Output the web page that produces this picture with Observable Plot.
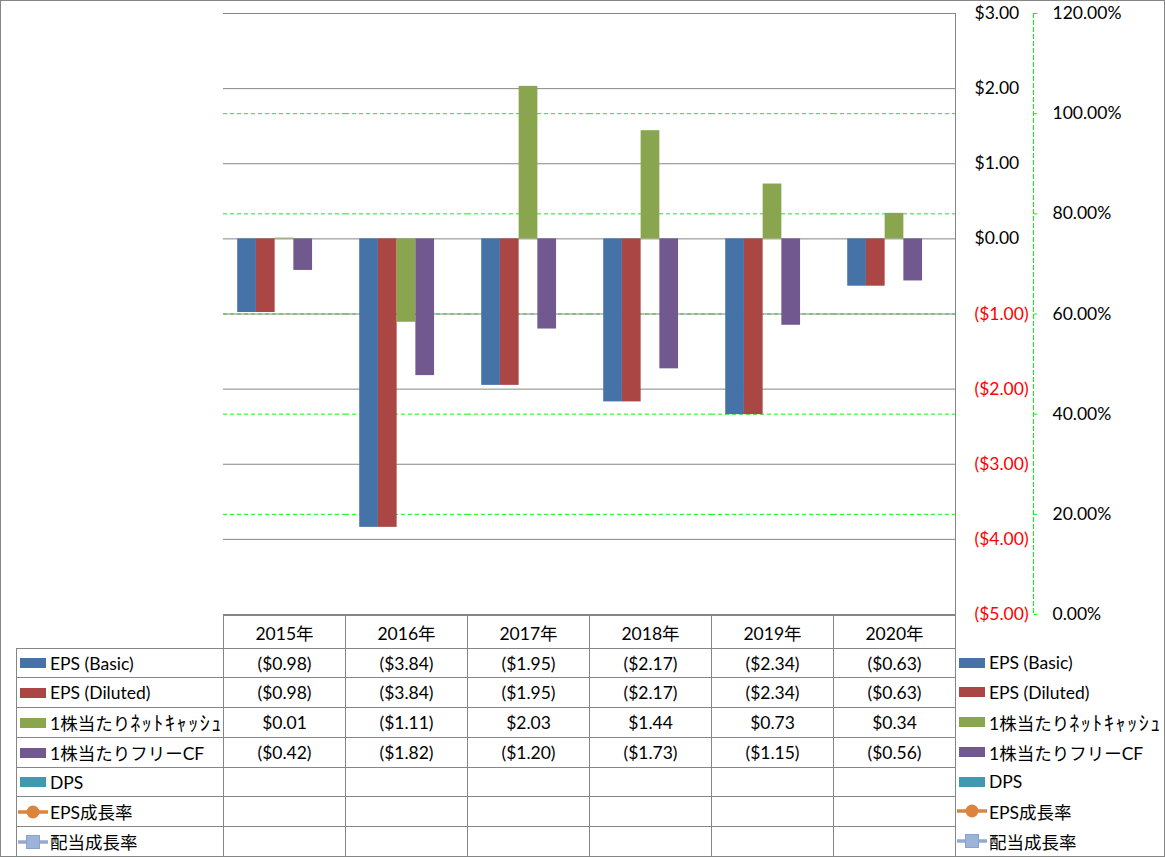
<!DOCTYPE html>
<html><head><meta charset="utf-8">
<script src="https://cdn.jsdelivr.net/npm/d3@7"></script>
<script src="https://cdn.jsdelivr.net/npm/@observablehq/plot@0.6"></script>
<style>
body{margin:0;background:#fff;}
#wrap{position:relative;width:1165px;height:858px;overflow:hidden;font-family:Lato,"Noto Sans CJK JP",sans-serif;font-size:17.5px;color:#000;background:#fff;}
#chart{position:absolute;left:0;top:0;}
#border{position:absolute;left:0;top:0;width:1165px;height:857px;box-sizing:border-box;border:1px solid #868686;pointer-events:none;}
.cell{position:absolute;box-sizing:border-box;border:1px solid #868686;display:flex;align-items:center;justify-content:center;white-space:nowrap;}
.lab{justify-content:flex-start;padding-left:3px;}
.leg{position:absolute;display:flex;align-items:center;white-space:nowrap;}
.sw{display:inline-block;width:26px;height:10px;margin-right:4px;flex:none;}
.lsw{display:block;margin-left:-2px;margin-right:2px;flex:none;}
.hw{font-size:20px;letter-spacing:1.6px;}
</style></head>
<body>
<div id="wrap"><div id="chart"></div><div id="border"></div></div>
<script>
// ---- data ----
const years = ["2015年","2016年","2017年","2018年","2019年","2020年"];
const barSeries = ["EPS (Basic)","EPS (Diluted)","1株当たりﾈｯﾄｷｬｯｼｭ","1株当たりフリーCF","DPS"];
const lineSeries = ["EPS成長率","配当成長率"];
const epsBasic = [-0.98,-3.84,-1.95,-2.17,-2.34,-0.63];
const epsDiluted = [-0.98,-3.84,-1.95,-2.17,-2.34,-0.63];
const netCashPerShare = [0.01,-1.11,2.03,1.44,0.73,0.34];
const freeCFPerShare = [-0.42,-1.82,-1.20,-1.73,-1.15,-0.56];
const dps = [null,null,null,null,null,null];
const epsGrowth = [null,null,null,null,null,null];
const dividendGrowth = [null,null,null,null,null,null];
const dollarTicks = [3,2,1,0,-1,-2,-3,-4,-5];
const pctTicks = [120,100,80,60,40,20,0];
const barColors = ["#4572A7","#AA4643","#89A54E","#71588F","#4198AF"];
const lineColors = ["#DB843D","#93A9CF"];

// ---- helpers ----
const barValues = [epsBasic, epsDiluted, netCashPerShare, freeCFPerShare, dps];
const lineValues = [epsGrowth, dividendGrowth];
const money = v => v == null ? "" : (v < 0 ? "($" + (-v).toFixed(2) + ")" : "$" + v.toFixed(2));
const yDomain = [-5, 3], pctDomain = [0, 120];
const pctToY = p => yDomain[0] + (p - pctDomain[0]) * (yDomain[1] - yDomain[0]) / (pctDomain[1] - pctDomain[0]);
const yToPct = v => pctDomain[0] + (v - yDomain[0]) * (pctDomain[1] - pctDomain[0]) / (yDomain[1] - yDomain[0]);

const rows = [];
years.forEach((yr, i) => barValues.forEach((arr, j) => {
  if (arr[i] != null) rows.push({year: yr, series: barSeries[j], value: arr[i]});
}));

const chart = Plot.plot({
  width: 1165, height: 615,
  marginTop: 13, marginBottom: 1, marginLeft: 223, marginRight: 210,
  style: {fontFamily: "Lato, 'Noto Sans CJK JP', sans-serif", fontSize: "17.5px", background: "transparent", overflow: "visible"},
  fx: {domain: years, padding: 0, round: false, axis: null, label: null},
  x: {domain: barSeries, paddingInner: 0, paddingOuter: 0.76, round: false, axis: null},
  y: {domain: yDomain, axis: null},
  color: {domain: barSeries, range: barColors},
  marks: [
    Plot.ruleY(pctTicks.map(pctToY), {stroke: "#00FF00", strokeDasharray: "4,3"}),
    Plot.ruleY(dollarTicks, {stroke: "#868686"}),
    Plot.barY(rows, {fx: "year", x: "series", y: "value", fill: "series"}),
    Plot.frame({anchor: "right", facetAnchor: "right", stroke: "#868686"}),
    Plot.frame({anchor: "right", facetAnchor: "right", dx: 78, stroke: "#00FF00", strokeDasharray: "4,3"}),
    Plot.axisY({anchor: "right", label: null, ticks: dollarTicks.filter(v => v >= 0), tickSize: 0, tickPadding: 19, tickFormat: money, fill: "#000"}),
    Plot.axisY({anchor: "right", label: null, ticks: dollarTicks.filter(v => v < 0), tickSize: 0, tickPadding: 19, tickFormat: money, fill: "#FF0000"}),
    Plot.axisY({anchor: "right", label: null, ticks: pctTicks.map(pctToY), tickSize: 3, tickPadding: 16, dx: 78, stroke: "#00FF00", fill: "#000", tickFormat: v => yToPct(v).toFixed(2) + "%"})
  ]
});
document.getElementById("chart").appendChild(chart);

// ---- data table ----
const wrap = document.getElementById("wrap");
const colX = [16, 223, 345, 467, 589, 711, 833, 955];
const rowY = [615, 648, 677, 707, 737, 767, 796, 826, 856];
function cell(c, r, cls) {
  const d = document.createElement("div");
  d.className = "cell" + (cls ? " " + cls : "");
  d.style.left = colX[c] + "px";
  d.style.top = rowY[r] + "px";
  d.style.width = (colX[c + 1] - colX[c] + 1) + "px";
  d.style.height = (rowY[r + 1] - rowY[r] + 1) + "px";
  wrap.appendChild(d);
  return d;
}
function addLabel(el, name) {
  // half-width katakana get a little extra size/spacing, as in the reference font
  const parts = name.match(/[\uFF61-\uFF9F]+|[^\uFF61-\uFF9F]+/g);
  parts.forEach(p => {
    if (/[\uFF61-\uFF9F]/.test(p)) {
      const s = document.createElement("span"); s.className = "hw"; s.textContent = p; el.appendChild(s);
    } else el.appendChild(document.createTextNode(p));
  });
}
function swatch(kind, color, idx) {
  if (kind === "bar") {
    const s = document.createElement("span");
    s.className = "sw"; s.style.background = color; return s;
  }
  const ns = "http://www.w3.org/2000/svg";
  const svg = document.createElementNS(ns, "svg");
  svg.setAttribute("width", 30); svg.setAttribute("height", 16); svg.setAttribute("class", "lsw");
  const ln = document.createElementNS(ns, "line");
  ln.setAttribute("x1", 0); ln.setAttribute("x2", 30); ln.setAttribute("y1", 8); ln.setAttribute("y2", 8);
  ln.setAttribute("stroke", color); ln.setAttribute("stroke-width", 3.5);
  svg.appendChild(ln);
  let m;
  if (idx === 0) {
    m = document.createElementNS(ns, "circle");
    m.setAttribute("cx", 15); m.setAttribute("cy", 8); m.setAttribute("r", 6.5);
    m.setAttribute("fill", color);
  } else {
    m = document.createElementNS(ns, "rect");
    m.setAttribute("x", 8.5); m.setAttribute("y", 1.5); m.setAttribute("width", 13); m.setAttribute("height", 13);
    m.setAttribute("fill", "#9DB3DA"); m.setAttribute("stroke", "#8AA2CE"); m.setAttribute("stroke-width", 1);
  }
  svg.appendChild(m);
  return svg;
}
years.forEach((yr, i) => { cell(i + 1, 0).textContent = yr; });
const tableRows = barSeries.map((name, j) => ({name, kind: "bar", color: barColors[j], values: barValues[j], idx: j}))
  .concat(lineSeries.map((name, j) => ({name, kind: "line", color: lineColors[j], values: lineValues[j], idx: j})));
tableRows.forEach((row, r) => {
  const lab = cell(0, r + 1, "lab");
  lab.appendChild(swatch(row.kind, row.color, row.idx));
  addLabel(lab, row.name);
  row.values.forEach((v, i) => { cell(i + 1, r + 1).textContent = money(v); });
  const lg = document.createElement("div");
  lg.className = "leg";
  lg.style.left = "959px";
  lg.style.top = rowY[r + 1] + "px";
  lg.style.height = (rowY[r + 2] - rowY[r + 1]) + "px";
  lg.appendChild(swatch(row.kind, row.color, row.idx));
  addLabel(lg, row.name);
  wrap.appendChild(lg);
});
</script>
</body></html>
